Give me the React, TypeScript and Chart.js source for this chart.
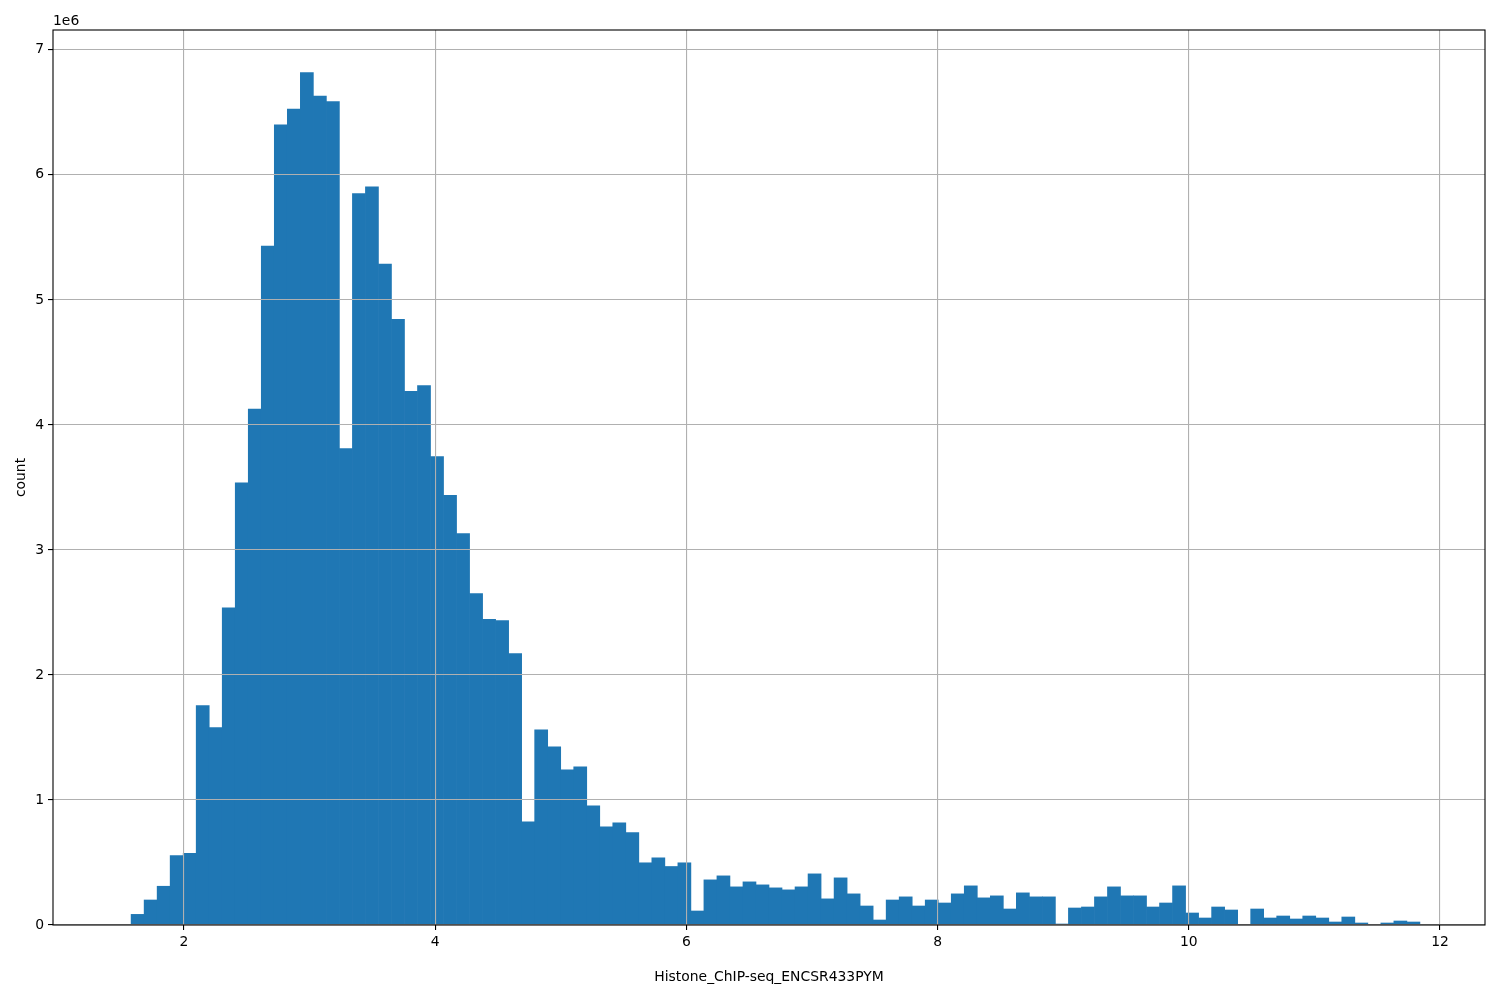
import React, { useEffect, useRef } from "react";
import { Chart, registerables } from "chart.js";

Chart.register(...registerables);

// Histogram definition (100 equal bins between the data min and max)
const BIN_MIN = 1.475;
const BIN_MAX = 11.84;

// Counts per bin, in millions (axis shows offset text "1e6")
const countsMillions = [
  0, 0.085, 0.2, 0.31, 0.555, 0.573, 1.755, 1.58, 2.536, 3.536,
  4.127, 5.43, 6.4, 6.527, 6.818, 6.63, 6.586, 3.81, 5.85, 5.905,
  5.286, 4.845, 4.268, 4.315, 3.747, 3.436, 3.131, 2.651, 2.444, 2.435,
  2.171, 0.826, 1.562, 1.426, 1.242, 1.266, 0.954, 0.786, 0.818, 0.739,
  0.4975, 0.538, 0.468, 0.4975, 0.112, 0.361, 0.393, 0.305, 0.345, 0.321,
  0.297, 0.281, 0.305, 0.409, 0.209, 0.377, 0.249, 0.152, 0.04, 0.2,
  0.225, 0.152, 0.2, 0.176, 0.249, 0.313, 0.217, 0.233, 0.128, 0.257,
  0.225, 0.225, 0.008, 0.136, 0.144, 0.225, 0.305, 0.233, 0.233, 0.144,
  0.176, 0.313, 0.096, 0.056, 0.144, 0.12, 0, 0.128, 0.056, 0.072,
  0.048, 0.072, 0.056, 0.024, 0.064, 0.016, 0, 0.016, 0.032, 0.024,
];

const xTickValues = [2, 4, 6, 8, 10, 12];
const yTickValues = [0, 1, 2, 3, 4, 5, 6, 7];
const xLabel = "Histone_ChIP-seq_ENCSR433PYM";
const yLabel = "count";
const yOffsetText = "1e6";

const FONT_FAMILY = '"DejaVu Sans", sans-serif';
const FONT_SIZE = 13.9;
const BAR_COLOR = "#1f77b4";
const GRID_COLOR = "#b0b0b0";

export default function App() {
  const ref = useRef<HTMLCanvasElement>(null);

  useEffect(() => {
    document.body.style.margin = "0";
    const canvas = ref.current;
    if (!canvas) return;

    const n = countsMillions.length;
    const binWidth = (BIN_MAX - BIN_MIN) / n;
    const data = countsMillions.map((c, i) => ({
      x: BIN_MIN + (i + 0.5) * binWidth,
      y: c,
    }));
    const span = BIN_MAX - BIN_MIN;
    const xMin = BIN_MIN - 0.05 * span;
    const xMax = BIN_MAX + 0.05 * span;
    const yMax = Math.max(...countsMillions) * 1.05;

    const font = { family: FONT_FAMILY, size: FONT_SIZE };

    const framePlugin = {
      id: "frame",
      afterDraw(chart: any) {
        const { ctx, chartArea: a } = chart;
        ctx.save();
        ctx.strokeStyle = "#000";
        ctx.lineWidth = 1.1;
        ctx.strokeRect(a.left, a.top, a.right - a.left, a.bottom - a.top);
        ctx.font = `${FONT_SIZE}px ${FONT_FAMILY}`;
        ctx.fillStyle = "#000";
        ctx.textAlign = "left";
        ctx.textBaseline = "middle";
        ctx.fillText(yOffsetText, a.left, 21);
        ctx.restore();
      },
    };

    const chart = new Chart(canvas, {
      type: "bar",
      data: {
        datasets: [
          {
            data,
            backgroundColor: BAR_COLOR,
            borderWidth: 0,
            barPercentage: 1,
            categoryPercentage: 1,
          } as any,
        ],
      },
      options: {
        animation: false,
        responsive: true,
        maintainAspectRatio: false,
        layout: { padding: { left: 0, right: 15, top: 30, bottom: 0 } },
        plugins: {
          legend: { display: false },
          tooltip: { enabled: false },
        },
        scales: {
          x: {
            type: "linear",
            min: xMin,
            max: xMax,
            offset: false,
            afterBuildTicks: (s: any) => {
              s.ticks = xTickValues.map((v) => ({ value: v }));
            },
            afterFit: (s: any) => {
              s.height = 75;
            },
            ticks: {
              font,
              color: "#000",
              padding: 4,
              maxRotation: 0,
              autoSkip: false,
              callback: (v: any) => String(v),
            },
            grid: {
              color: GRID_COLOR,
              lineWidth: 1.1,
              tickColor: "#000",
              tickLength: 5,
              tickWidth: 1.1,
              z: 1,
              offset: false,
            } as any,
            border: { display: false },
            title: {
              display: true,
              text: xLabel,
              font,
              color: "#000",
              padding: { top: 0, bottom: 14.7 },
            },
          },
          y: {
            type: "linear",
            min: 0,
            max: yMax,
            afterBuildTicks: (s: any) => {
              s.ticks = yTickValues.map((v) => ({ value: v }));
            },
            afterFit: (s: any) => {
              s.width = 53;
            },
            ticks: {
              font,
              color: "#000",
              padding: 4,
              autoSkip: false,
              callback: (v: any) => String(v),
            },
            grid: {
              color: GRID_COLOR,
              lineWidth: 1.1,
              tickColor: "#000",
              tickLength: 5,
              tickWidth: 1.1,
              z: 1,
            } as any,
            border: { display: false },
            title: {
              display: true,
              text: yLabel,
              font,
              color: "#000",
              padding: { top: 12.7, bottom: 0 },
            },
          },
        },
      },
      plugins: [framePlugin],
    });

    return () => chart.destroy();
  }, []);

  return (
    <div style={{ position: "absolute", left: 0, top: 0, width: 1500, height: 1000 }}>
      <canvas ref={ref} />
    </div>
  );
}
